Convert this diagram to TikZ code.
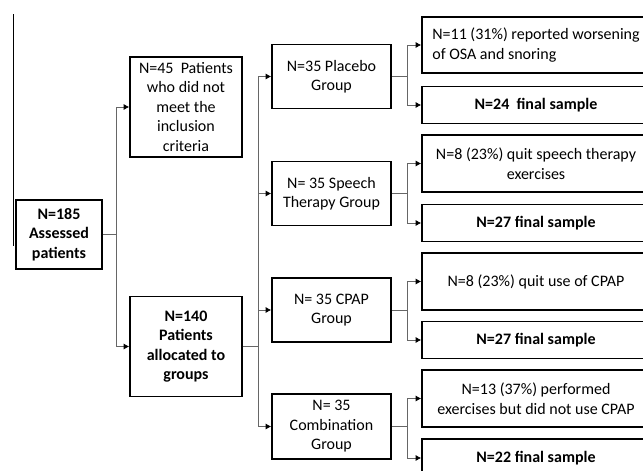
\documentclass[tikz,border=0pt]{standalone}
\usepackage{fontspec}
\setmainfont{Carlito}
\usetikzlibrary{arrows.meta, positioning}

\begin{document}
\begin{tikzpicture}[
    x=1pt, y=-1pt,
    box/.style={draw, line width=1.6pt, align=center, inner sep=3pt,
                font=\fontsize{16}{19.5}\selectfont},
    first/.style={box, minimum width=86pt, minimum height=69pt},
    sel/.style={box, minimum width=112pt, minimum height=100pt},
    grp/.style={box, minimum width=119pt, minimum height=64pt},
    res/.style={box, minimum width=228pt, minimum height=56pt},
    fin/.style={box, minimum width=228pt, minimum height=37pt, font=\fontsize{16}{19.5}\selectfont\bfseries},
    flow/.style={-{Latex[length=5.5pt,width=6pt,black]}, line width=0.8pt, draw=gray!80!black},
    link/.style={line width=0.8pt, draw=gray!80!black},
]
\useasboundingbox (0,0) rectangle (643,471);
\draw[line width=0.9pt] (13,14) -- (13,246);

\node[first, font=\fontsize{16}{19.5}\selectfont\bfseries] (assessed) at (59,234.5) {N=185\\ Assessed\\ patients};
\node[sel] (excluded) at (186,107) {N=45~ Patients\\ who did not\\ meet the\\ inclusion\\ criteria};
\node[sel, font=\fontsize{16}{19.5}\selectfont\bfseries] (allocated) at (186,346.5) {N=140\\ Patients\\ allocated to\\ groups};

\node[grp] (placebo) at (331.5,76.5) {N=35 Placebo\\ Group};
\node[grp] (speech) at (331.5,193.5) {N= 35 Speech\\ Therapy Group};
\node[grp] (cpap) at (331.5,310) {N= 35 CPAP\\ Group};
\node[grp, minimum height=65pt] (combo) at (331.5,426.5) {N= 35\\ Combination\\ Group};

\node[res, align=left] (placeboout) at (536,45) {N=11 (31\%) reported worsening\\ of OSA and snoring};
\node[fin] (placebofin) at (536,105) {N=24~ final sample};
\node[res, minimum height=57pt] (speechout) at (536,163.5) {N=8 (23\%) quit speech therapy\\ exercises};
\node[fin] (speechfin) at (536,223) {N=27 final sample};
\node[res, minimum height=57pt] (cpapout) at (536,281.5) {N=8 (23\%) quit use of CPAP};
\node[fin] (cpapfin) at (536,340) {N=27 final sample};
\node[res, minimum height=57pt] (comboout) at (536,398.5) {N=13 (37\%) performed\\ exercises but did not use CPAP};
\node[fin, minimum height=38pt] (combofin) at (536,458) {N=22 final sample};

% screening
\draw[link] (assessed.east) -- ++(14,0) coordinate (split);
\draw[flow] (split) |- (excluded.west);
\draw[flow] (split) |- (allocated.west);

% randomisation
\draw[link] (allocated.east) -- ++(16,0) coordinate (branch);
\foreach \g in {placebo, speech, cpap, combo}
  \draw[flow] (branch) |- (\g.west);

% outcomes
\foreach \g in {placebo, speech, cpap, combo} {
  \draw[link] (\g.east) -- ++(16,0) coordinate (\g-fork);
  \draw[flow] (\g-fork) |- (\g out.west);
  \draw[flow] (\g-fork) |- (\g fin.west);
}
\end{tikzpicture}
\end{document}
